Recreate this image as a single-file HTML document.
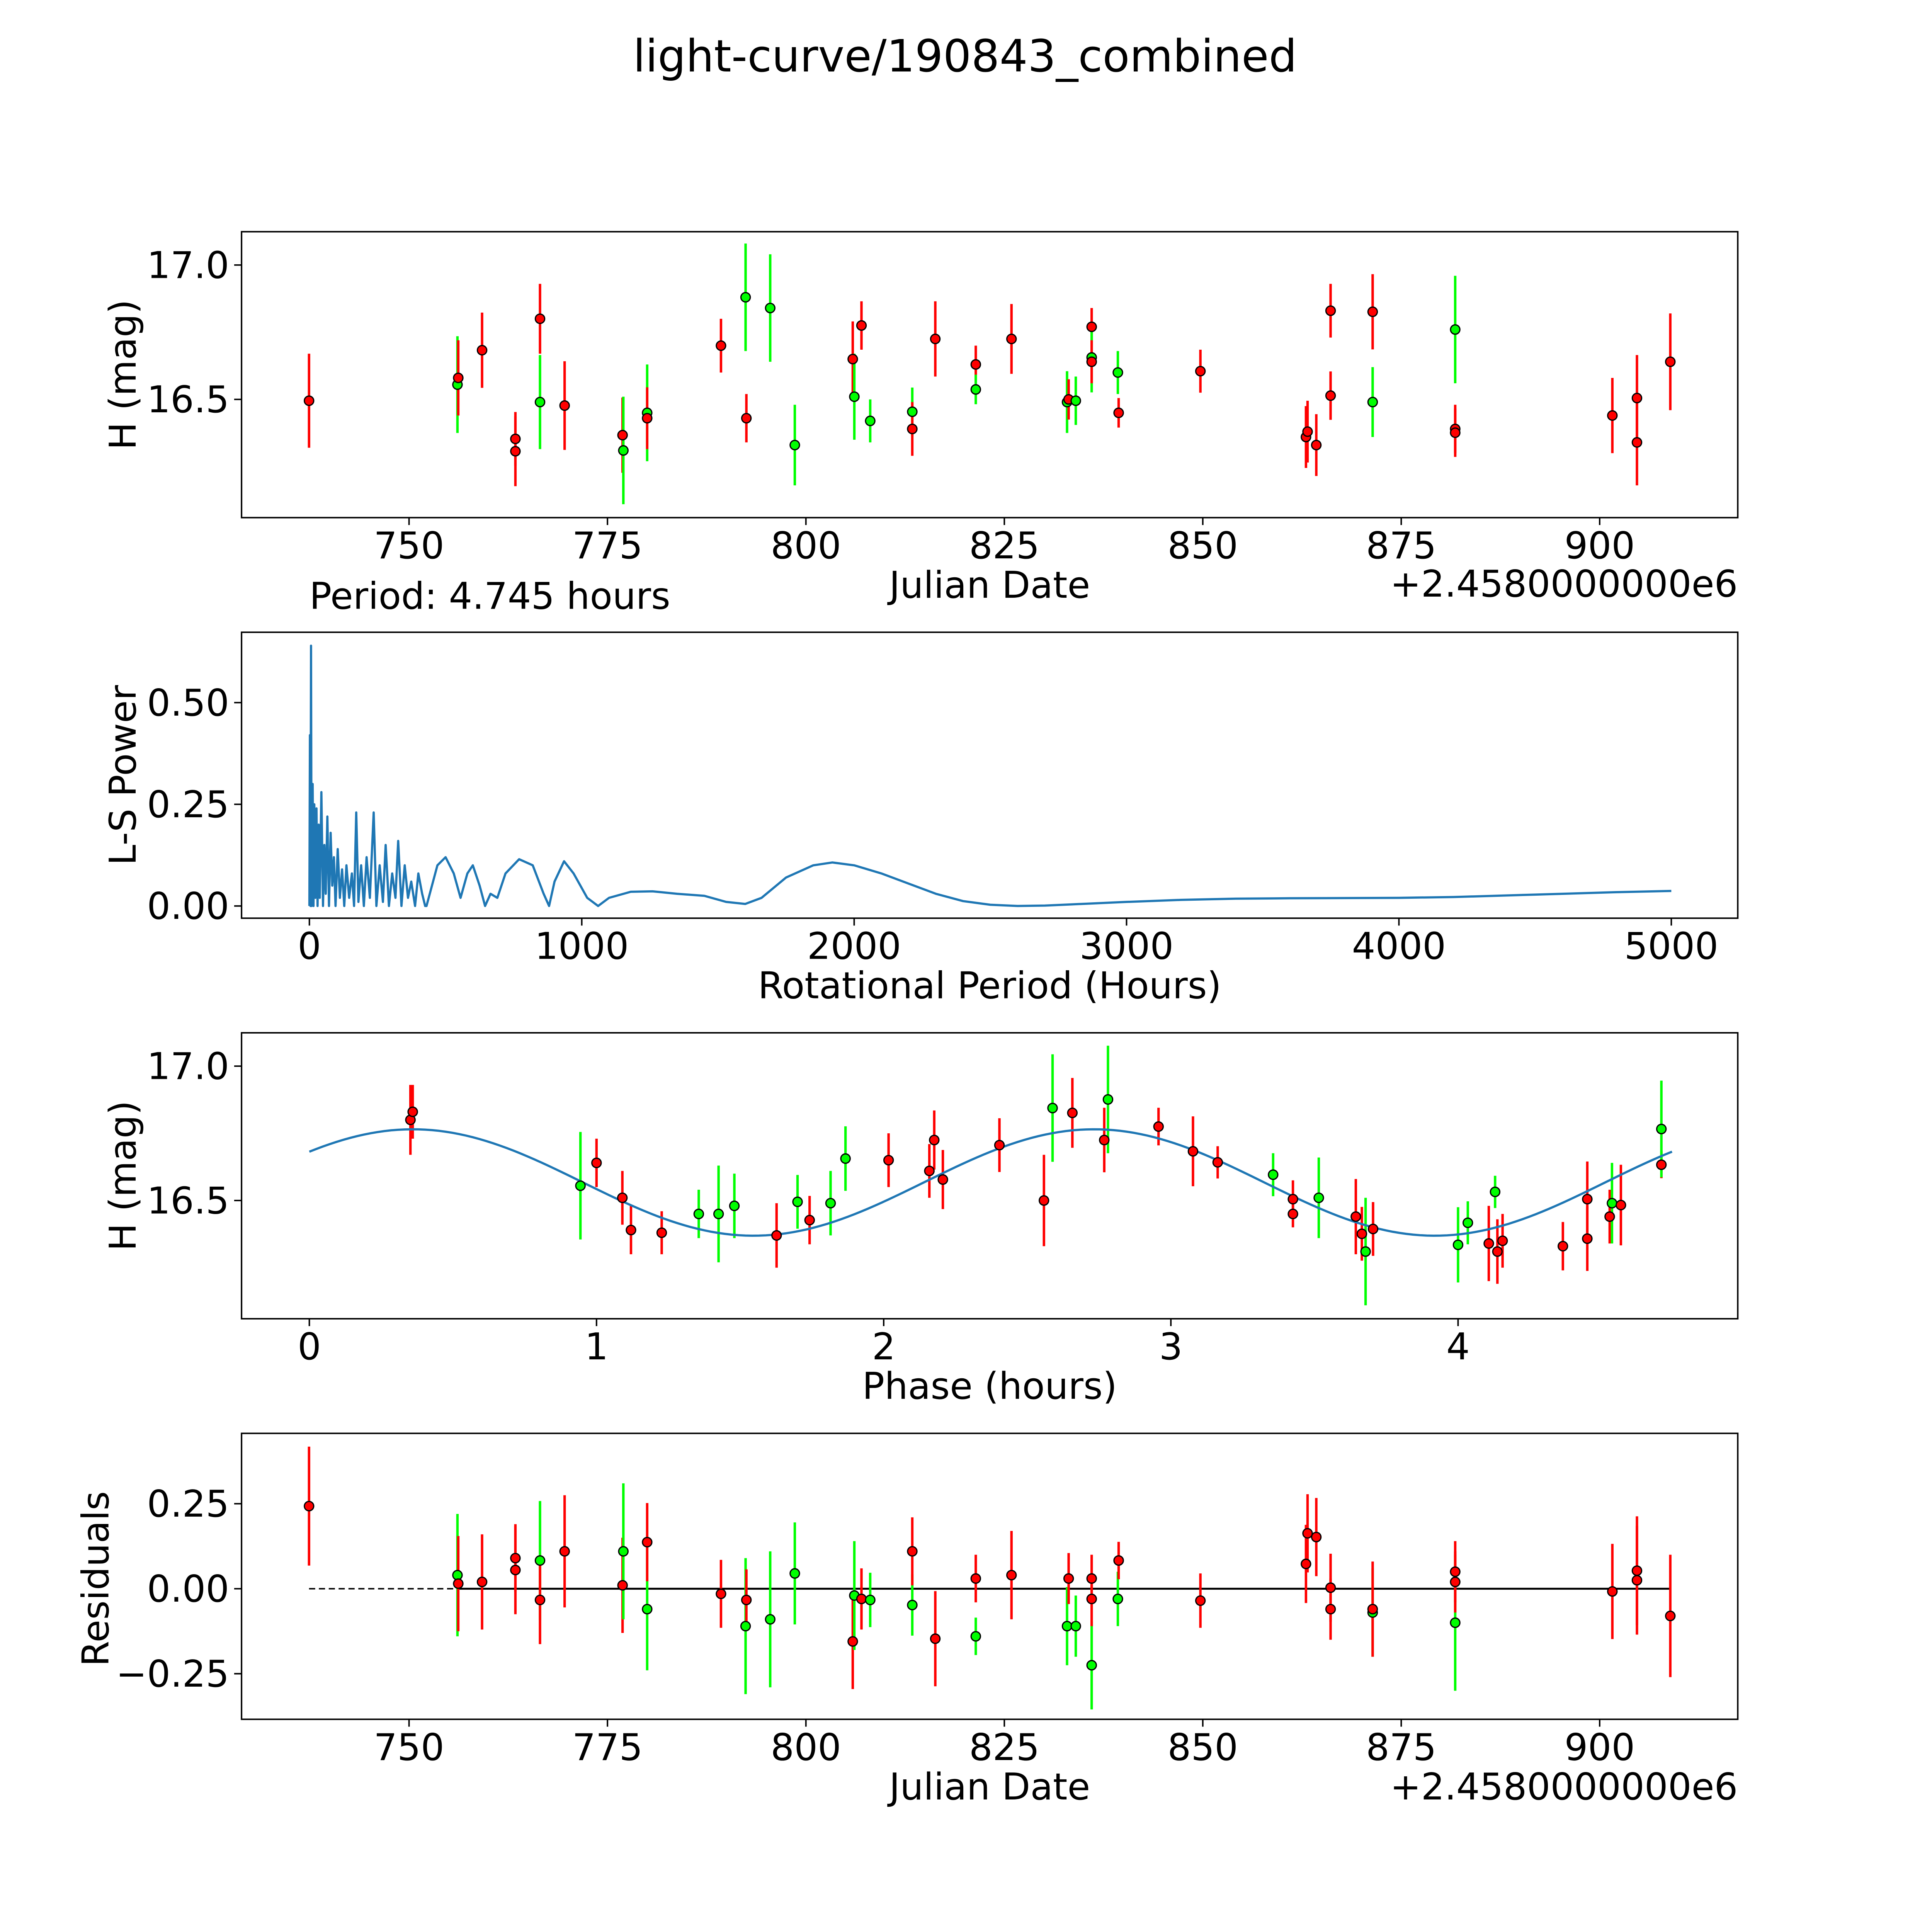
<!DOCTYPE html>
<html><head><meta charset="utf-8"><style>
html,body{margin:0;padding:0;background:#fff;overflow:hidden}
svg{display:block;overflow:hidden}
text{font-family:"DejaVu Sans","Liberation Sans",sans-serif;fill:#000}
</style></head><body>
<svg id="fig" xmlns="http://www.w3.org/2000/svg" width="5400" height="5400" viewBox="0 0 1693 1693">
<rect x="0" y="0" width="1693" height="1693" fill="#fff"/>
<text x="783" y="58" font-size="36" text-anchor="middle">light-curve/190843_combined</text>
</svg>
<script>
// ---- data ----
const lcDates=[737.4,756.1,756.2,759.2,763.4,763.4,766.5,766.5,769.6,776.9,777.0,780.0,780.0,789.3,792.4,792.5,795.5,798.6,805.9,806.1,807.0,808.1,813.4,813.4,816.3,821.4,821.4,825.9,832.9,833.1,834.0,836.0,836.0,836.0,839.3,839.4,849.7,863.0,863.2,864.3,866.1,866.1,871.4,871.4,881.8,881.8,881.8,901.6,904.7,904.7,908.9];
const lcMags=[16.495,16.555,16.58,16.683,16.353,16.307,16.49,16.80,16.477,16.367,16.31,16.45,16.43,16.70,16.88,16.43,16.84,16.33,16.65,16.51,16.775,16.42,16.454,16.39,16.725,16.63,16.537,16.725,16.49,16.50,16.495,16.77,16.656,16.64,16.60,16.45,16.605,16.36,16.38,16.33,16.514,16.83,16.49,16.826,16.76,16.39,16.376,16.44,16.505,16.34,16.64];
const lcErrs=[0.175,0.18,0.14,0.14,0.1,0.13,0.175,0.13,0.165,0.14,0.2,0.18,0.115,0.1,0.2,0.09,0.2,0.15,0.14,0.16,0.09,0.08,0.09,0.1,0.14,0.07,0.055,0.13,0.115,0.075,0.09,0.07,0.13,0.08,0.08,0.055,0.08,0.115,0.115,0.115,0.09,0.1,0.13,0.14,0.2,0.09,0.09,0.14,0.16,0.16,0.18];
const lcBands=["r","g","r","r","r","r","g","r","r","r","g","g","r","r","g","r","g","g","r","g","r","g","g","r","r","r","g","r","g","r","g","r","g","r","g","r","r","r","r","r","r","r","g","r","g","r","r","r","r","r","r"];
const residVals=[0.243,0.04,0.015,0.02,0.09,0.055,0.083,-0.033,0.11,0.01,0.11,-0.06,0.137,-0.015,-0.11,-0.033,-0.09,0.045,-0.155,-0.02,-0.03,-0.033,-0.048,0.11,-0.147,0.03,-0.14,0.04,-0.11,0.03,-0.11,0.03,-0.225,-0.03,-0.03,0.083,-0.035,0.073,0.163,0.152,-0.06,0.003,-0.07,-0.06,-0.1,0.05,0.02,-0.008,0.053,0.025,-0.08];
const phaseVals=[0.352,0.36,0.944,1.0,1.09,1.12,1.227,1.356,1.425,1.48,1.627,1.70,1.742,1.815,1.867,2.017,2.159,2.176,2.206,2.403,2.558,2.588,2.657,2.768,2.781,2.957,3.077,3.163,3.356,3.425,3.425,3.515,3.644,3.665,3.678,3.704,4.0,4.034,4.107,4.129,4.137,4.155,4.365,4.45,4.45,4.528,4.536,4.567,4.708,4.708];
const phaseMags=[16.80,16.83,16.555,16.64,16.51,16.39,16.38,16.45,16.45,16.48,16.37,16.495,16.427,16.49,16.656,16.65,16.61,16.725,16.578,16.706,16.50,16.844,16.826,16.725,16.876,16.775,16.683,16.642,16.596,16.505,16.45,16.51,16.44,16.376,16.31,16.394,16.335,16.417,16.34,16.532,16.31,16.35,16.33,16.505,16.358,16.44,16.49,16.483,16.633,16.766];
const phaseErrs=[0.13,0.1,0.2,0.09,0.1,0.09,0.08,0.09,0.18,0.12,0.12,0.1,0.09,0.12,0.12,0.1,0.1,0.11,0.11,0.1,0.17,0.2,0.13,0.12,0.2,0.07,0.13,0.06,0.08,0.07,0.05,0.15,0.14,0.1,0.2,0.1,0.14,0.08,0.14,0.06,0.12,0.1,0.09,0.14,0.12,0.1,0.15,0.15,0.05,0.18];
const phaseBands=["r","r","g","r","r","r","r","g","g","g","r","g","r","g","g","r","r","r","r","r","r","g","r","r","g","r","r","r","g","r","r","g","r","r","g","r","g","g","r","g","r","r","r","r","r","r","g","r","r","g"];
const lsPeriods=[0,2,4,6,8,12,15,18,22,26,30,34,38,44,50,55,60,66,72,78,84,90,96,104,112,120,128,136,146,156,164,172,180,190,200,210,222,236,246,258,270,280,292,304,316,326,338,350,362,374,388,400,414,425,430,470,500,530,555,580,600,625,645,665,690,720,770,820,860,880,900,935,970,1020,1060,1100,1180,1260,1350,1450,1530,1600,1660,1750,1850,1920,2000,2100,2200,2300,2400,2500,2600,2700,2800,3000,3200,3400,3600,4000,4200,4500,4800,5000];
const lsPower=[0,0.42,0.0,0.64,0.0,0.3,0.0,0.25,0.02,0.24,0.0,0.2,0.02,0.28,0.0,0.15,0.03,0.22,0.0,0.18,0.05,0.12,0.0,0.14,0.02,0.09,0.0,0.1,0.02,0.08,0.0,0.23,0.01,0.1,0.0,0.12,0.02,0.23,0.0,0.1,0.01,0.15,0.0,0.08,0.02,0.16,0.0,0.1,0.02,0.06,0.0,0.08,0.03,0.0,0.0,0.10,0.12,0.08,0.02,0.08,0.10,0.05,0.0,0.03,0.02,0.08,0.115,0.10,0.03,0.0,0.06,0.11,0.08,0.02,0.0,0.02,0.035,0.036,0.03,0.025,0.01,0.005,0.02,0.07,0.10,0.107,0.10,0.08,0.055,0.03,0.012,0.003,0.0,0.001,0.004,0.01,0.015,0.018,0.019,0.02,0.022,0.028,0.034,0.037];
const modelMean=16.567, modelAmp=0.198, modelPeak=0.36, modelHalfPeriod=2.3725, periodHours=4.745;
const jdTicks=[750,775,800,825,850,875,900];
const magTicks=[16.5,17.0];
const lsXTicks=[0,1000,2000,3000,4000,5000];
const lsYTicks=[0,0.25,0.5];
const phaseTicks=[0,1,2,3,4];
const residTicks=[-0.25,0,0.25];

// ---- drawing ----
const NS="http://www.w3.org/2000/svg";
const svg=document.getElementById('fig');
const FS=30;
function el(tag,attrs,parent){const e=document.createElementNS(NS,tag);for(const k in attrs)e.setAttribute(k,attrs[k]);(parent||svg).appendChild(e);return e;}
const L=196,R=1410;
function mkAxis(top,bot,xmin,xmax,ymin,ymax){return{top,bot,x:v=>L+(v-xmin)/(xmax-xmin)*(R-L),y:v=>bot-(v-ymin)/(ymax-ymin)*(bot-top)};}
const ax1=mkAxis(188,420,728.9,917.4,16.06,17.124);
const ax2=mkAxis(513,745,-249,5244,-0.03,0.673);
const ax3=mkAxis(838,1070,-0.236,4.974,16.06,17.124);
const ax4=mkAxis(1163,1395,728.9,917.4,-0.384,0.457);
function fmt(v,d){return v<0?'\u2212'+Math.abs(v).toFixed(d):v.toFixed(d);}
function frame(ax,name,xt,xd,yt,yd){
  const g=el('g',{});
  
  
  xt.forEach(t=>{const x=ax.x(t);
    const l=el('line',{x1:x,x2:x,y1:ax.bot,y2:ax.bot+6,stroke:'#000','stroke-width':1.2},g);
    
    const tx=el('text',{x:x,y:ax.bot+33,'font-size':FS,'text-anchor':'middle'},g);
    
    tx.textContent=fmt(t,xd);});
  yt.forEach(t=>{const y=ax.y(t);
    const l=el('line',{x1:L-6,x2:L,y1:y,y2:y,stroke:'#000','stroke-width':1.2},g);
    
    const tx=el('text',{x:L-10,y:y+10.5,'font-size':FS,'text-anchor':'end'},g);
    
    tx.textContent=fmt(t,yd);});
  const r=el('rect',{x:L,y:ax.top,width:R-L,height:ax.bot-ax.top,fill:'none',stroke:'#000','stroke-width':1.2},g);
  
  return g;
}
function text(x,y,s,name,opts){const t=el('text',Object.assign({x:x,y:y,'font-size':FS},opts||{}));t.textContent=s;return t;}
function ytitle(x,y,s,name){const t=text(x,y,s,name,{'text-anchor':'middle',transform:`rotate(-90 ${x} ${y})`});return t;}
function pt(ax,g,xv,yv,ev,band){
  const c=band==='g'?'#00ff00':'#ff0000';
  const x=ax.x(xv);
  const l=el('line',{x1:x,x2:x,y1:ax.y(yv-ev),y2:ax.y(yv+ev),stroke:c,'stroke-width':2},g);
  
}
function dot(ax,g,xv,yv,band){
  const c=band==='g'?'#00ff00':'#ff0000';
  const d=el('circle',{cx:ax.x(xv),cy:ax.y(yv),r:3.8,fill:c,stroke:'#000','stroke-width':1},g);
  
}
// Panel 1
frame(ax1,'light-curve-axes',jdTicks,0,magTicks,1);
let g1=el('g',{});
lcDates.forEach((d,i)=>pt(ax1,g1,d,lcMags[i],lcErrs[i],lcBands[i]));
lcDates.forEach((d,i)=>dot(ax1,g1,d,lcMags[i],lcBands[i]));
ytitle(110,304,'H (mag)','y-axis-title');
text(803,485,'Julian Date','x-axis-title',{'text-anchor':'middle'});
text(1410,484,'+2.4580000000e6','x-offset-label',{'text-anchor':'end'});
text(251,494,'Period: '+periodHours.toFixed(3)+' hours','period-label');
// Panel 2
frame(ax2,'periodogram-axes',lsXTicks,0,lsYTicks,2);
let dp=lsPeriods.map((p,i)=>(i?'L':'M')+ax2.x(p).toFixed(2)+' '+ax2.y(lsPower[i]).toFixed(2)).join(' ');
let ls=el('path',{d:dp,fill:'none',stroke:'#1f77b4','stroke-width':1.8,'stroke-linejoin':'round'});

ytitle(110,629,'L-S Power','y-axis-title');
text(803,810,'Rotational Period (Hours)','x-axis-title',{'text-anchor':'middle'});
// Panel 3
frame(ax3,'phase-axes',phaseTicks,0,magTicks,1);
let mp=[];for(let i=0;i<=200;i++){const p=periodHours*i/200;mp.push((i?'L':'M')+ax3.x(p).toFixed(2)+' '+ax3.y(modelMean+modelAmp*Math.cos(2*Math.PI*(p-modelPeak)/modelHalfPeriod)).toFixed(2));}
let g3=el('g',{});
phaseVals.forEach((p,i)=>pt(ax3,g3,p,phaseMags[i],phaseErrs[i],phaseBands[i]));
let ml=el('path',{d:mp.join(' '),fill:'none',stroke:'#1f77b4','stroke-width':1.8});

let g3b=el('g',{});
phaseVals.forEach((p,i)=>dot(ax3,g3b,p,phaseMags[i],phaseBands[i]));
ytitle(110,954,'H (mag)','y-axis-title');
text(803,1135,'Phase (hours)','x-axis-title',{'text-anchor':'middle'});
// Panel 4
frame(ax4,'residuals-axes',jdTicks,0,residTicks,2);
let z=ax4.y(0);
let dl=el('line',{x1:ax4.x(lcDates[0]),x2:ax4.x(lcDates[1]),y1:z,y2:z,stroke:'#000','stroke-width':1.2,'stroke-dasharray':'5 3'});

let sl=el('line',{x1:ax4.x(lcDates[1]),x2:ax4.x(lcDates[lcDates.length-1]),y1:z,y2:z,stroke:'#000','stroke-width':1.6});

let g4=el('g',{});
lcDates.forEach((d,i)=>pt(ax4,g4,d,residVals[i],lcErrs[i],lcBands[i]));
lcDates.forEach((d,i)=>dot(ax4,g4,d,residVals[i],lcBands[i]));
ytitle(88,1281,'Residuals','y-axis-title');
text(803,1460,'Julian Date','x-axis-title',{'text-anchor':'middle'});
text(1410,1460,'+2.4580000000e6','x-offset-label',{'text-anchor':'end'});
</script>
</body></html>
